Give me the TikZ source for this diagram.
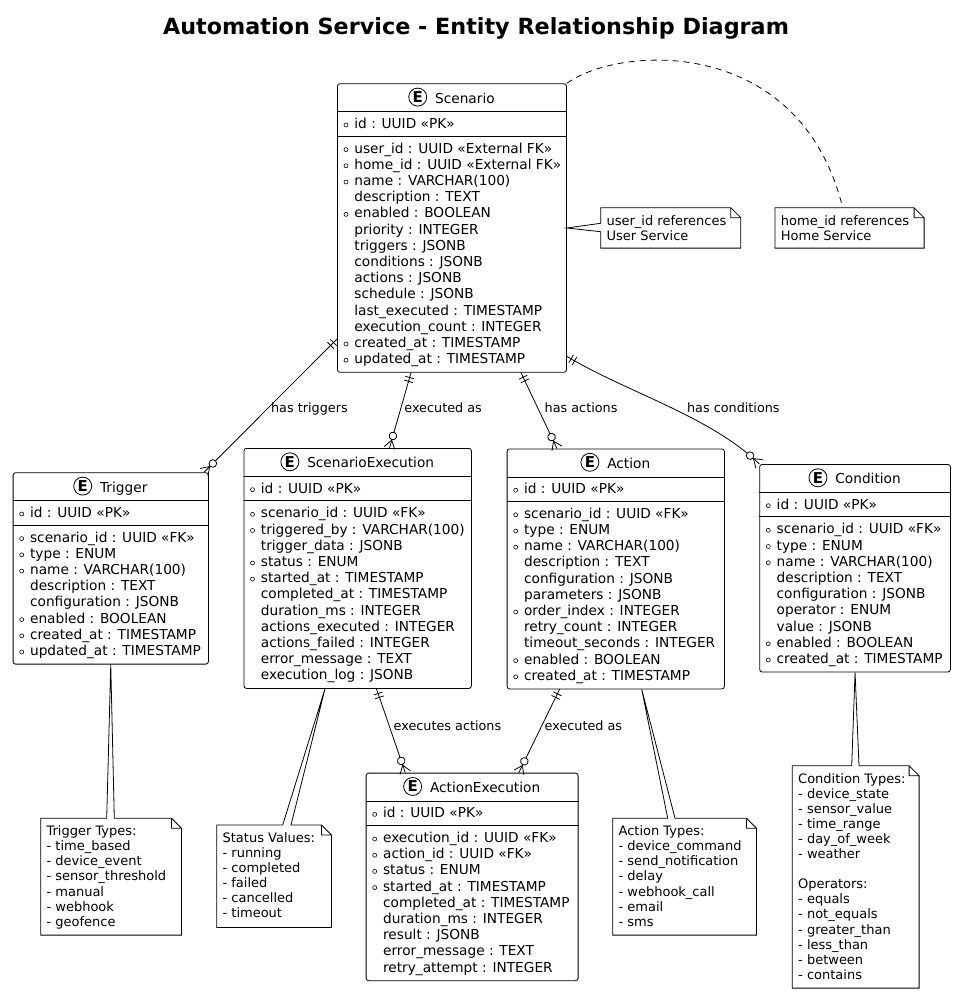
\documentclass[tikz,border=0pt]{standalone}
\usepackage{fontspec}
\setmainfont{DejaVu Sans}
\usepackage{tikz}
\usetikzlibrary{decorations.markings}

% entity: name, top left, width, title, number of rows, rows (marker/text)
\newcommand{\erentity}[6]{%
  \node[entity, minimum width=#3pt, minimum height={78pt+(#5-1)*16.2pt}] (#1) at (#2) {};
  \draw ([yshift=-28.4pt]#1.north west) -- ([yshift=-28.4pt]#1.north east)
        ([yshift=-52.7pt]#1.north west) -- ([yshift=-52.7pt]#1.north east);
  \node[etitle] (#1-title) at ([xshift=13pt,yshift=-19.8pt]#1.north) {#4};
  \node[eicon] at ([xshift=-17pt,yshift=6pt]#1-title.base west) {E};
  \node[erow] at ([xshift=17pt,yshift=-45.2pt]#1.north west) {id : UUID «PK»};
  \draw[dot] ([xshift=9pt,yshift=-41.7pt]#1.north west) circle (2pt);
  \foreach \m/\t [count=\i from 0] in {#6} {
    \node[erow] at ([xshift=17pt,yshift={-69.8pt-16.2pt*\i}]#1.north west) {\t};
    \if\m o\draw[dot] ([xshift=9pt,yshift={-66.3pt-16.2pt*\i}]#1.north west) circle (2pt);\fi
  }}

% note text lines
\newcommand{\notetext}[2]{%
  \foreach \t [count=\i from 0] in {#2}
    \node[ntext] at ([xshift=5.5pt,yshift={-17.3pt-15.1pt*\i}]#1.north west) {\t};}

% note outline with a tail on its top edge
\newcommand{\notetop}[4]{%
  \draw[noteline] (#1.north west) -- ([xshift=#3pt]#1.north west) -- (#2) -- ([xshift=#4pt]#1.north west)
    -- ([xshift=-10pt]#1.north east) -- ([yshift=-10pt]#1.north east) -- (#1.south east) -- (#1.south west) -- cycle
    ([xshift=-10pt]#1.north east) |- ([yshift=-10pt]#1.north east);}

\begin{document}
\begin{tikzpicture}[
  x=1pt, y=-1pt, line width=0.8pt,
  entity/.style={draw, fill=white, rounded corners=2.5pt, anchor=north west, inner sep=0pt},
  etitle/.style={anchor=base, inner sep=0pt, font=\fontsize{13.7}{16.2}\selectfont},
  eicon/.style={draw, circle, fill=white, minimum size=18pt, inner sep=0pt, font=\fontsize{15}{15}\selectfont\bfseries},
  erow/.style={anchor=base west, inner sep=0pt, font=\fontsize{13.7}{16.2}\selectfont},
  dot/.style={line width=0.6pt},
  lbl/.style={anchor=west, inner sep=0pt, text height=9.5pt, text depth=2.5pt, font=\fontsize{12.8}{15}\selectfont},
  notebox/.style={anchor=north west, inner sep=0pt},
  noteline/.style={draw, fill=white},
  ntext/.style={anchor=base west, inner sep=0pt, font=\fontsize{13}{15.1}\selectfont},
  title/.style={anchor=base, inner sep=0pt, font=\fontsize{22.3}{26}\selectfont\bfseries},
  onemany/.style={postaction={decorate}, decoration={markings,
    mark=at position 5pt with {\draw (0,-4.5pt) -- (0,4.5pt);},
    mark=at position 9pt with {\draw (0,-4.5pt) -- (0,4.5pt);},
    mark=at position -8pt with {\draw (0,0) -- (8pt,5.5pt) (0,0) -- (8pt,-5.5pt);},
    mark=at position -12.5pt with {\draw[fill=white] (0,0) circle (3.8pt);}}}
]
\path[fill=white, use as bounding box] (0,0) rectangle (956,993);

\node[title] (title) at (476,34.3) {Automation Service - Entity Relationship Diagram};

% Entities
\erentity{sc}{337,83.3}{229}{Scenario}{14}{o/user\_id : UUID «External FK», o/home\_id : UUID «External FK»,
  o/name : VARCHAR(100), -/description : TEXT, o/enabled : BOOLEAN, -/priority : INTEGER, -/triggers : JSONB,
  -/conditions : JSONB, -/actions : JSONB, -/schedule : JSONB, -/last\_executed : TIMESTAMP,
  -/execution\_count : INTEGER, o/created\_at : TIMESTAMP, o/updated\_at : TIMESTAMP}
\erentity{tr}{12.7,472.3}{195.3}{Trigger}{8}{o/scenario\_id : UUID «FK», o/type : ENUM, o/name : VARCHAR(100),
  -/description : TEXT, -/configuration : JSONB, o/enabled : BOOLEAN, o/created\_at : TIMESTAMP,
  o/updated\_at : TIMESTAMP}
\erentity{se}{243.5,448}{227.5}{ScenarioExecution}{11}{o/scenario\_id : UUID «FK», o/triggered\_by : VARCHAR(100),
  -/trigger\_data : JSONB, o/status : ENUM, o/started\_at : TIMESTAMP, -/completed\_at : TIMESTAMP,
  -/duration\_ms : INTEGER, -/actions\_executed : INTEGER, -/actions\_failed : INTEGER,
  -/error\_message : TEXT, -/execution\_log : JSONB}
\erentity{ac}{506.7,448.5}{217.3}{Action}{11}{o/scenario\_id : UUID «FK», o/type : ENUM, o/name : VARCHAR(100),
  -/description : TEXT, -/configuration : JSONB, -/parameters : JSONB, o/order\_index : INTEGER,
  -/retry\_count : INTEGER, -/timeout\_seconds : INTEGER, o/enabled : BOOLEAN, o/created\_at : TIMESTAMP}
\erentity{co}{759.3,464}{190.7}{Condition}{9}{o/scenario\_id : UUID «FK», o/type : ENUM, o/name : VARCHAR(100),
  -/description : TEXT, -/configuration : JSONB, -/operator : ENUM, -/value : JSONB, o/enabled : BOOLEAN,
  o/created\_at : TIMESTAMP}
\erentity{ae}{365.7,772.7}{212}{ActionExecution}{9}{o/execution\_id : UUID «FK», o/action\_id : UUID «FK»,
  o/status : ENUM, o/started\_at : TIMESTAMP, -/completed\_at : TIMESTAMP, -/duration\_ms : INTEGER,
  -/result : JSONB, -/error\_message : TEXT, -/retry\_attempt : INTEGER}

% Relations
\draw[onemany] ([yshift=-255.7pt]sc.north west) -- ([xshift=191.3pt]tr.north west);
\draw[onemany] ([xshift=74pt]sc.south west) -- ([xshift=146pt]se.north west);
\draw[onemany] ([xshift=184pt]sc.south west) -- ([xshift=50.3pt]ac.north west);
\draw[onemany] ([yshift=-273pt]sc.north east) .. controls (626,392) and (710,416) .. (co.north west);
\draw[onemany] ([xshift=133pt]se.south west) -- ([xshift=39.6pt]ae.north west);
\draw[onemany] ([xshift=52.9pt]ac.south west) -- ([xshift=153.1pt]ae.north west);

\node[lbl] (l-tr) at (270.7,409.3) {has triggers};
\node[lbl] (l-se) at (404,409.3) {executed as};
\node[lbl] (l-ac) at (544.3,409.3) {has actions};
\node[lbl] (l-co) at (686.7,409.3) {has conditions};
\node[lbl] (l-ae1) at (393.3,726.7) {executes actions};
\node[lbl] (l-ae2) at (544.3,726.7) {executed as};

% Notes
\node[notebox, minimum width=139.3pt, minimum height=39.6pt] (nu) at (600.7,207.7) {};
\draw[noteline] (nu.north west) -- ([xshift=-10pt]nu.north east) -- ([yshift=-10pt]nu.north east) -- (nu.south east)
  -- (nu.south west) -- ([yshift=-24pt]nu.north west) -- (sc.east) -- ([yshift=-15.6pt]nu.north west) -- cycle
  ([xshift=-10pt]nu.north east) |- ([yshift=-10pt]nu.north east);
\notetext{nu}{user\_id references, User Service}

\node[notebox, minimum width=148.3pt, minimum height=39.6pt] (nh) at (775,207.7) {};
\draw[noteline] (nh.north west) -- ([xshift=-10pt]nh.north east) -- ([yshift=-10pt]nh.north east) -- (nh.south east)
  -- (nh.south west) -- cycle ([xshift=-10pt]nh.north east) |- ([yshift=-10pt]nh.north east);
\draw[dash pattern=on 6pt off 5pt] (sc.north east) .. controls (620,45) and (800,35) .. ([xshift=67.7pt]nh.north west);
\notetext{nh}{home\_id references, Home Service}

\node[notebox, minimum width=140pt, minimum height=116pt] (nt) at (40.7,818.3) {};
\notetop{nt}{tr.south}{66}{73.6}
\notetext{nt}{Trigger Types:, - time\_based, - device\_event, - sensor\_threshold, - manual, - webhook, - geofence}

\node[notebox, minimum width=114pt, minimum height=101.7pt] (ns) at (216.7,825) {};
\notetop{ns}{[xshift=81.5pt]se.south west}{66}{74.3}
\notetext{ns}{Status Values:, - running, - completed, - failed, - cancelled, - timeout}

\node[notebox, minimum width=143pt, minimum height=116pt] (na) at (612.7,818.3) {};
\notetop{na}{[xshift=135pt]ac.south west}{55}{62.3}
\notetext{na}{Action Types:, - device\_command, - send\_notification, - delay, - webhook\_call, - email, - sms}

\node[notebox, minimum width=126pt, minimum height=221.6pt] (nc) at (792.3,765.7) {};
\notetop{nc}{co.south}{59.4}{66.7}
\notetext{nc}{Condition Types:, - device\_state, - sensor\_value, - time\_range, - day\_of\_week, - weather, ,
  Operators:, - equals, - not\_equals, - greater\_than, - less\_than, - between, - contains}
\end{tikzpicture}
\end{document}
